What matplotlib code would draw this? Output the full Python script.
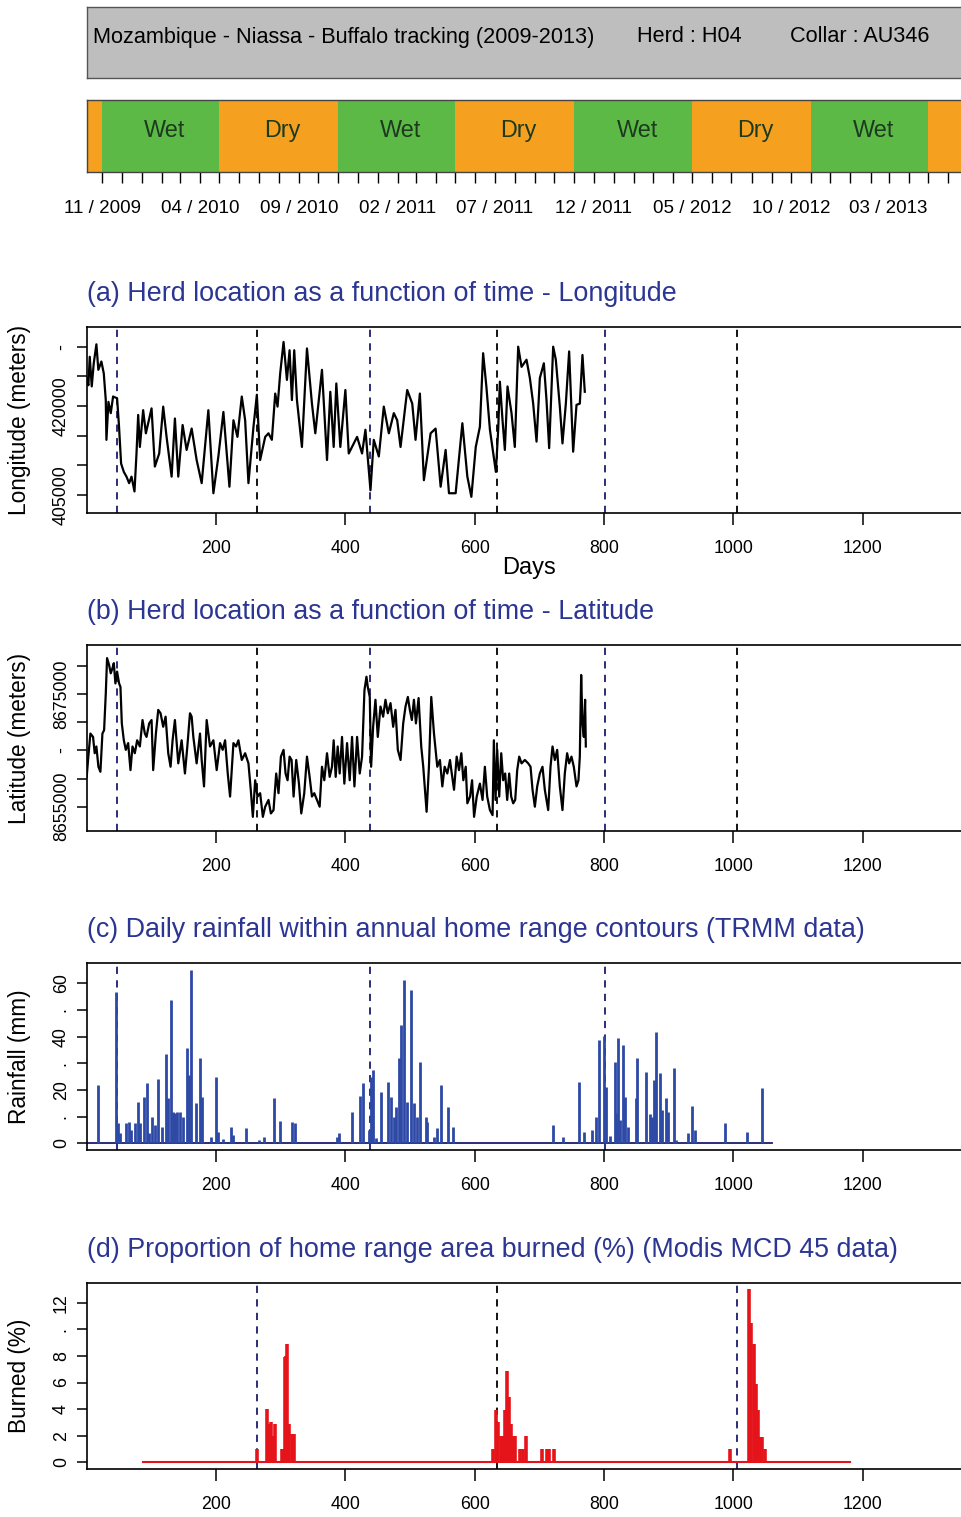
import numpy as np
import pandas as pd
import matplotlib
matplotlib.use("Agg")
import matplotlib.pyplot as plt

plt.rcParams['font.family'] = ['Liberation Sans', 'DejaVu Sans']

# ---- data ----
start_date = "2009-10-08"   # day 0 of the tracking

season_bounds = ["2009-05-01", "2009-11-01", "2010-05-01", "2010-11-01", "2011-05-01",
                 "2011-11-01", "2012-05-01", "2012-11-01", "2013-05-01", "2013-11-01"]
season_names = ["Dry", "Wet", "Dry", "Wet", "Dry", "Wet", "Dry", "Wet", "Dry"]
season_labelled = [False, True, True, True, True, True, True, True, False]

month_label_step = 5

# longitude (thousands of meters)
lon_days = [0, 2.6, 4.7, 7.8, 10.9, 15, 18, 22.7, 26.4, 29.5, 30.5, 33.6, 37.2, 40.8, 47, 50, 53.2,
            57.4, 61.5, 65.6, 69.3, 73.9, 77, 79.6, 82.2, 87.3, 91.5, 100.3, 105.4, 112.1, 118.3,
            123.5, 131.3, 136.4, 141.6, 148.3, 154.5, 162.3, 170, 177.8, 188.1, 195.9, 203.6,
            211.4, 220.7, 226.9, 233.1, 239.8, 245, 250.1, 257.9, 263.1, 268.2, 276, 281.1, 286.3,
            291.5, 295.1, 299.2, 304.4, 309.6, 313.7, 317.3, 320.9, 325.1, 332.8, 340.6, 348.3,
            353.5, 363.8, 371.6, 376.7, 381.9, 386, 392.2, 400, 405.2, 410.3, 418.1, 425.8, 431,
            438.8, 443.9, 451.7, 459.4, 467.2, 474.9, 480.1, 485.3, 495.6, 503.4, 508.5, 515.2,
            521.4, 531.8, 539.5, 547.3, 555, 560.2, 570.5, 580.9, 588.6, 594.8, 601.6, 608, 613,
            618, 623.5, 628.6, 632.7, 636.3, 638.9, 643, 646.6, 650.7, 656.9, 662, 667.2, 672.4,
            680.1, 685.3, 690.4, 695.6, 700.7, 706.9, 711, 715.1, 721.3, 725.4, 731.6, 735.7,
            740.9, 746, 752.2, 757.4, 762.5, 766.6, 770.2]
lon_k = [424.7, 423.5, 428.3, 423.3, 427.2, 430.4, 426.1, 427.5, 425.5, 421.0, 414.3, 420.7, 418.8,
         421.6, 421.3, 416.5, 410.3, 408.9, 408.1, 407.0, 408.1, 405.6, 412.0, 418.5, 413.1, 419.3,
         415.4, 419.6, 409.8, 412.0, 419.9, 414.8, 408.1, 417.9, 408.1, 416.8, 412.6, 416.2, 410.9,
         407.0, 419.3, 405.3, 411.5, 419.0, 406.4, 417.6, 414.8, 421.6, 417.6, 407.0, 416.5, 421.9,
         410.9, 414.8, 415.4, 414.3, 422.1, 419.9, 425.5, 430.8, 424.4, 429.4, 421.0, 429.4, 421.0,
         413.1, 429.7, 420.4, 415.4, 426.1, 410.9, 422.4, 413.1, 423.8, 413.1, 422.7, 412.0, 413.1,
         414.8, 412.0, 416.0, 405.8, 414.3, 411.5, 419.9, 415.4, 418.8, 417.6, 413.1, 422.7, 420.4,
         414.3, 422.1, 407.5, 415.4, 416.2, 406.4, 412.6, 405.3, 405.3, 417.1, 408.1, 404.7, 413.1,
         416.5, 428.9, 423.3, 416.0, 412.0, 408.9, 416.0, 424.1, 417.6, 412.6, 423.3, 418.8, 413.1,
         430.0, 426.6, 427.8, 424.7, 420.4, 414.0, 424.7, 427.2, 421.0, 412.9, 430.0, 427.8, 419.9,
         413.7, 420.4, 429.2, 412.3, 420.2, 420.4, 428.6, 422.4]

# latitude (thousands of meters)
lat_days = [0, 2.1, 5.7, 9.8, 12.4, 15, 18.1, 21.2, 24.3, 26.9, 29.5, 31.5, 34.6, 37.2, 39.8, 41.9,
            44.4, 47, 50.1, 52.2, 54.3, 57.4, 60.5, 64.1, 67.7, 70.8, 74.4, 78, 82.2, 86.3, 89.9,
            92.5, 96.6, 100.3, 102.8, 107, 110.6, 114.2, 118.3, 122, 126.1, 129.7, 132.8, 136.4,
            141.6, 146.8, 151.9, 155.6, 159.7, 162.3, 164.9, 170, 175.2, 177.8, 181.4, 185.5,
            190.7, 195.9, 201, 206.2, 210.3, 214, 218.1, 221.7, 226.9, 231, 234.6, 239.8, 245,
            250.1, 253.7, 256.9, 260.5, 264.1, 268.2, 272.4, 276, 281.1, 284.8, 288.9, 293, 296.6,
            300.3, 304.4, 307.5, 310.6, 313.7, 316.8, 319.9, 324, 328.2, 331.8, 336.4, 340.6,
            344.7, 348.3, 351.9, 356.1, 360.2, 363.8, 367.4, 371.6, 375.7, 379.3, 381.9, 385,
            388.1, 391.2, 394.8, 398.4, 402.6, 406.7, 410.3, 414, 418.1, 422.2, 425.8, 429.5,
            432.6, 434.6, 437.7, 439.8, 442.9, 446.5, 450.1, 454.3, 458.4, 462, 465.6, 469.8,
            473.9, 477.5, 481.1, 485.3, 489.4, 493, 496.6, 499.7, 502.8, 506, 509.1, 513.2, 517.3,
            520.4, 525.6, 529.2, 532.8, 537, 542.1, 546.2, 549.9, 553.5, 557.6, 561.8, 563.8, 568,
            572.1, 575.7, 579.3, 582.4, 586.1, 588.6, 592.8, 595.9, 599, 603.1, 608, 612.1, 615.7,
            619.3, 623.5, 627.6, 629.6, 632.2, 634.8, 637.9, 641, 644, 647.1, 650.2, 653.3, 656.4,
            659.5, 662.6, 665.7, 668.8, 672.4, 677.5, 682.7, 686.3, 689.4, 693, 696.6, 700.7,
            704.8, 708.4, 713.6, 717.2, 720.3, 723.9, 727.5, 731.6, 735.7, 739.3, 742.9, 746,
            749.6, 753.2, 757.4, 760.4, 762.5, 764.6, 766.6, 768.7, 770.7, 771.8]
lat_k = [8660.3, 8663.3, 8668.0, 8667.4, 8664.5, 8665.7, 8662.1, 8661.2, 8668.0, 8668.6, 8675.1,
         8681.4, 8680.2, 8678.7, 8679.6, 8680.5, 8676.9, 8679.0, 8676.9, 8676.3, 8669.8, 8666.8,
         8665.1, 8666.3, 8661.5, 8665.7, 8664.5, 8666.8, 8665.7, 8670.4, 8668.0, 8667.4, 8669.8,
         8670.4, 8661.5, 8668.0, 8672.2, 8671.6, 8669.2, 8671.0, 8664.5, 8662.1, 8666.8, 8670.4,
         8662.7, 8666.8, 8660.9, 8665.7, 8671.6, 8671.0, 8667.4, 8662.7, 8668.0, 8663.3, 8658.6,
         8670.4, 8665.7, 8666.8, 8661.5, 8666.3, 8665.1, 8666.8, 8660.9, 8656.8, 8666.3, 8665.7,
         8666.8, 8663.3, 8664.5, 8662.7, 8658.0, 8653.2, 8659.7, 8656.8, 8657.4, 8653.2, 8655.0,
         8656.2, 8653.8, 8654.4, 8660.9, 8657.4, 8663.9, 8665.1, 8660.9, 8659.7, 8663.9, 8663.3,
         8656.8, 8663.3, 8659.1, 8653.8, 8657.4, 8663.9, 8660.3, 8656.8, 8657.4, 8656.2, 8655.0,
         8662.1, 8659.7, 8664.5, 8660.3, 8662.1, 8666.8, 8660.3, 8665.7, 8660.9, 8667.4, 8659.1,
         8666.3, 8659.7, 8667.4, 8658.6, 8667.4, 8660.9, 8663.9, 8675.7, 8678.1, 8676.3, 8674.5,
         8662.1, 8669.2, 8674.0, 8667.4, 8672.8, 8671.0, 8674.0, 8671.6, 8673.4, 8669.2, 8672.2,
         8665.1, 8663.3, 8669.8, 8672.8, 8674.5, 8672.2, 8670.4, 8674.0, 8669.8, 8674.3, 8665.7,
         8662.1, 8654.1, 8662.1, 8674.5, 8668.0, 8662.1, 8663.3, 8658.6, 8662.1, 8660.9, 8663.3,
         8661.5, 8658.0, 8663.9, 8661.5, 8664.5, 8659.7, 8662.1, 8655.6, 8656.8, 8659.7, 8653.2,
         8656.8, 8659.1, 8656.2, 8662.1, 8656.8, 8654.4, 8653.5, 8666.8, 8656.2, 8665.1, 8656.8,
         8664.5, 8659.7, 8660.9, 8656.2, 8660.9, 8656.8, 8655.6, 8656.2, 8661.5, 8663.9, 8662.7,
         8663.3, 8662.7, 8662.1, 8658.0, 8655.0, 8658.6, 8660.9, 8662.1, 8658.0, 8654.4, 8662.1,
         8665.7, 8663.3, 8665.1, 8658.6, 8654.4, 8660.9, 8664.5, 8662.7, 8663.9, 8662.1, 8658.6,
         8659.7, 8663.9, 8678.4, 8669.8, 8667.4, 8674.0, 8665.7]

# daily rainfall (mm), only the rainy days; all other days are 0
rain_days = [18, 46, 48.6, 52, 61.5, 65.6, 69, 74, 79.6, 82, 88.4, 92.5, 96.5, 100.8, 106, 110.6,
             117, 122.5, 126, 129.7, 132.8, 136.4, 140, 144.2, 148.3, 154.5, 157.6, 160.7, 169,
             175.2, 178.8, 191.7, 200, 203.6, 210.3, 223.3, 226.9, 246.5, 267.2, 273.4, 289.9,
             299.2, 317.8, 322.5, 387, 390, 410.3, 423.3, 427.4, 436.2, 439.8, 442.9, 448,
             455.8, 466.1, 470.8, 475, 479, 482.7, 485.3, 490.4, 494.6, 500.8, 505.9, 510,
             515.2, 524, 526.6, 537, 541, 548.3, 558.6, 566.4,
             721.3, 736.8, 761, 769.2, 781, 787.2, 792.4, 800.1, 802.7, 809, 816.6, 819.2, 822.2,
             825.3, 828.9, 832, 837.2, 849, 851.6, 864.5, 870.7, 874.8, 877.9, 881, 886.1, 889.7,
             896.4, 899.5, 907.7, 912, 929.9, 936.6, 940.2, 986.5, 1021, 1044.7]
rain_mm = [21.9, 56.9, 7.5, 3.8, 7.5, 8.1, 5.0, 7.5, 15.6, 7.5, 17.5, 22.8, 3.8, 10.0, 6.9, 24.0,
           6.3, 33.4, 16.9, 53.8, 11.9, 11.3, 11.9, 11.9, 10.0, 35.6, 25.6, 65.0, 15.0, 31.9, 17.5,
           2.5, 25.0, 4.4, 1.5, 6.3, 3.0, 5.6, 1.3, 2.5, 16.9, 8.5, 8.0, 7.5, 2.5, 3.8, 11.9, 17.8,
           22.5, 5.0, 25.0, 27.5, 1.9, 19.4, 23.0, 17.5, 10.0, 13.8, 31.9, 44.4, 61.3, 15.6, 57.3,
           15.0, 10.0, 30.6, 10.0, 8.1, 2.5, 5.6, 21.9, 13.8, 6.3,
           6.9, 2.5, 23.1, 4.4, 5.0, 10.0, 38.8, 40.3, 21.3, 2.8, 30.6, 11.3, 39.3, 8.8, 36.9,
           17.5, 6.3, 16.9, 31.9, 26.9, 11.0, 10.0, 23.8, 41.9, 26.3, 12.5, 16.9, 11.9, 28.1, 1.3,
           3.8, 14.1, 5.0, 7.8, 4.1, 20.9]
rain_first_day, rain_last_day = 0, 1059

# burned area (%), only the non-zero days
burn_days = [262.9, 278.3, 282.4, 285, 287.6, 291.2, 301.5, 304, 306.6, 308.5, 310.2, 313.3, 317,
             321, 627.6, 632.7, 636.3, 640, 643, 647, 650.2, 652.3, 655.4, 659.5, 662.6, 669.8,
             675, 680, 703.3, 711, 715, 722.3, 994.3, 1024.1, 1027.7, 1031.3, 1034.4, 1038,
             1041.6, 1044.7, 1048.8]
burn_pct = [1.0, 4.0, 2.9, 3.0, 2.0, 2.9, 1.0, 1.0, 7.9, 8.0, 8.9, 2.9, 2.1, 2.1, 1.0, 3.9, 3.0,
            2.0, 2.0, 3.9, 6.9, 4.9, 2.9, 2.0, 2.0, 1.0, 1.0, 2.0, 1.0, 1.0, 1.0, 1.0, 1.0, 13.0,
            10.5, 8.9, 5.9, 3.9, 1.9, 1.9, 1.0]
burn_first_day, burn_last_day = 87, 1180

# vertical reference lines (days)
rain_onsets = [46.5, 438.5, 801.5]
fire_onsets = [263.5, 634, 1006]

NAVY = "#1c1c6b"
BLUE_TITLE = "#2b3592"
RAIN_BLUE = "#2d49a6"
FIRE_RED = "#e5141b"
GREEN = "#5cb946"
ORANGE = "#f5a01e"

# ---- layout helpers (pixel based) ----
W, H = 962, 1517
fig = plt.figure(figsize=(W / 100, H / 100), dpi=100)

X_LEFT, X_RIGHT = 86.7, 975.0
PX_PER_DAY = 0.6467
X_MAX = (X_RIGHT - X_LEFT) / PX_PER_DAY


def px_axes(y0, y1, x0=X_LEFT, x1=X_RIGHT):
    return fig.add_axes([x0 / W, 1 - y1 / H, (x1 - x0) / W, (y1 - y0) / H])


def fig_text(x, y, s, **kw):
    fig.text(x / W, 1 - y / H, s, **kw)


day0 = pd.Timestamp(start_date)


def to_day(d):
    return (pd.Timestamp(d) - day0).days


# ---- header box ----
hdr = px_axes(7, 78)
hdr.set_facecolor("#bebebe")
hdr.set_xticks([])
hdr.set_yticks([])
for s in hdr.spines.values():
    s.set_linewidth(1.0)
    s.set_color("#555555")
fig_text(93, 37, "Mozambique - Niassa - Buffalo tracking (2009-2013)", fontsize=15.6, va="center")
fig_text(637, 37, "Herd : H04", fontsize=15.6, va="center")
fig_text(790, 37, "Collar : AU346", fontsize=15.6, va="center")

# ---- season bar ----
sb = px_axes(100, 172)
for i, name in enumerate(season_names):
    a, b = to_day(season_bounds[i]), to_day(season_bounds[i + 1])
    sb.axvspan(a, b, color=GREEN if name == "Wet" else ORANGE, lw=0)
    if season_labelled[i]:
        sb.text((a + b) / 2 + 6, 0.58, name, ha="center", va="center", fontsize=16.8, color="#1d3a1f")
sb.set_yticks([])
sb.spines["right"].set_visible(False)
for s in ["top", "bottom", "left"]:
    sb.spines[s].set_linewidth(1.0)
    sb.spines[s].set_color("#444444")

months = pd.date_range("2009-11-01", "2013-07-01", freq="MS")
month_days = [to_day(m) for m in months]
sb.set_xticks(month_days)
sb.set_xticklabels([m.strftime("%m / %Y") if i % month_label_step == 0 else ""
                    for i, m in enumerate(months)], fontsize=13.5)
sb.tick_params(axis="x", length=8, width=1.0, pad=12)
sb.set_xlim(0, X_MAX)
sb.set_ylim(0, 1)

# ---- data panels ----
panel_box = [(327, 513), (645, 831), (963, 1150), (1283, 1469)]
titles = ["(a) Herd location as a function of time - Longitude",
          "(b) Herd location as a function of time - Latitude",
          "(c) Daily rainfall within annual home range contours (TRMM data)",
          "(d) Proportion of home range area burned (%) (Modis MCD 45 data)"]
ylabels = ["Longitude (meters)", "Latitude (meters)", "Rainfall (mm)", "Burned (%)"]
ylims = [(401970, 433316), (8650682, 8683731), (-2.5, 67.6), (-0.5, 13.48)]
yticks = [[405000, 410000, 415000, 420000, 425000, 430000],
          [8655000, 8660000, 8665000, 8670000, 8675000, 8680000],
          [0, 10, 20, 30, 40, 50, 60],
          [0, 2, 4, 6, 8, 10, 12]]
yticklabels = [["405000", "", "", "420000", "", "-"],
               ["8655000", "", "-", "", "8675000", ""],
               ["0", ".", "20", ".", "40", ".", "60"],
               ["0", "2", "4", "6", "8", ".", "12"]]
vlines = [[(d, NAVY) for d in rain_onsets] + [(d, "black") for d in fire_onsets],
          [(d, NAVY) for d in rain_onsets] + [(d, "black") for d in fire_onsets],
          [(d, NAVY) for d in rain_onsets],
          [(fire_onsets[0], NAVY), (fire_onsets[1], "black"), (fire_onsets[2], NAVY)]]

axes = []
for k, (y0, y1) in enumerate(panel_box):
    ax = px_axes(y0, y1)
    axes.append(ax)
    ax.set_xticks([200, 400, 600, 800, 1000, 1200])
    ax.set_xticklabels(["200", "400", "600", "800", "1000", "1200"], fontsize=12.8)
    ax.set_yticks(yticks[k])
    ax.set_yticklabels(yticklabels[k], fontsize=12.8, rotation=90, va="center")
    ax.set_xlim(0, X_MAX)
    ax.set_ylim(*ylims[k])
    ax.tick_params(axis="x", length=8.4, width=1.1, pad=11)
    ax.tick_params(axis="y", length=7.2, width=1.1, pad=5)
    ax.spines["right"].set_visible(False)
    for s in ["top", "bottom", "left"]:
        ax.spines[s].set_linewidth(1.2)
    for d, c in vlines[k]:
        ax.axvline(d, color=c, lw=1.3, ls=(0, (4, 3.5)), zorder=1)
    fig_text(87, (y0 - 33), titles[k], fontsize=19.4, color=BLUE_TITLE, va="center")
    fig_text(20, (y0 + y1) / 2, ylabels[k], fontsize=16.3, rotation=90, va="center", ha="center")

axes[0].plot(lon_days, np.array(lon_k) * 1000, color="black", lw=1.6, zorder=3)
axes[1].plot(lat_days, np.array(lat_k) * 1000, color="black", lw=1.6, zorder=3)
fig_text(529, 568, "Days", fontsize=17, ha="center", va="center")

axes[2].plot([rain_first_day, rain_last_day], [0, 0], color=NAVY, lw=1.3, zorder=2)
axes[2].vlines(rain_days, 0, rain_mm, color=RAIN_BLUE, lw=2.0, zorder=3)

axes[3].plot([burn_first_day, burn_last_day], [0, 0], color=FIRE_RED, lw=1.5, zorder=2)
axes[3].vlines(burn_days, 0, burn_pct, color=FIRE_RED, lw=2.6, zorder=3)

fig.savefig("out.png", dpi=100)
